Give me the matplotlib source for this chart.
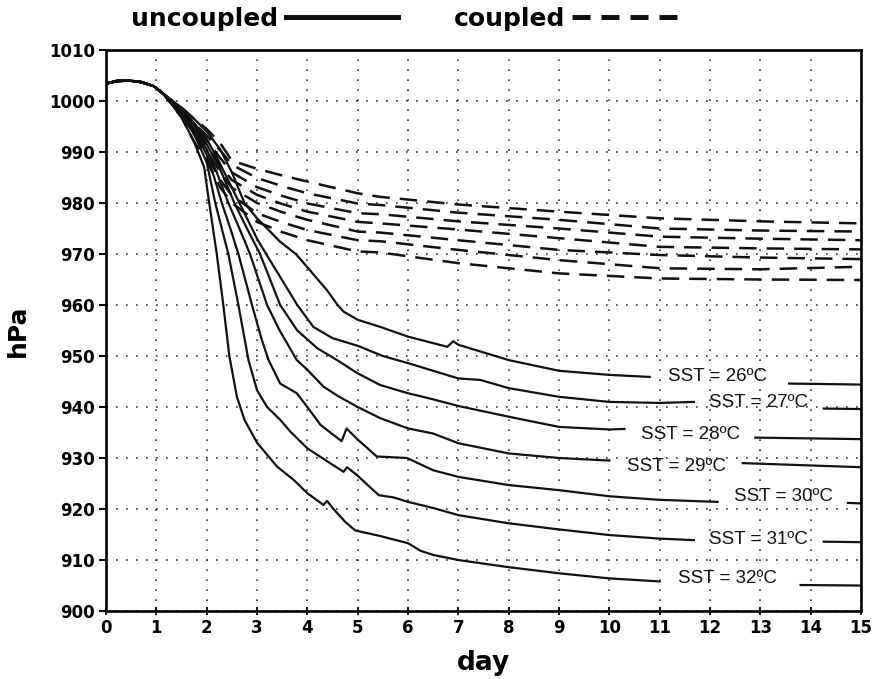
import numpy as np
import matplotlib.pyplot as plt
from matplotlib.lines import Line2D

nan = np.nan

sst = [26, 27, 28, 29, 30, 31, 32]

# all runs share the first day and a bit
common_day = [0, 0.2, 0.45, 0.7, 0.95, 1.15]
common_hpa = [1003.4, 1003.9, 1004.0, 1003.7, 1002.9, 1001.3]

# uncoupled runs, nan = gap where the SST label sits
u26_day = [1.5, 1.75, 2.0, 2.27, 2.5, 2.75, 3.0, 3.46, 3.77, 4.0, 4.39, 4.6, 4.72, 5.0, 5.45, 6.0, 6.78, 6.9, 7.0, 8.0, 9.0, 10.0, 10.8, nan, 13.57, 15]
u26_hpa = [998.7, 996.5, 994.0, 990.5, 986.0, 980.0, 977.0, 972.4, 970.0, 967.4, 962.9, 960.0, 958.7, 957.1, 955.7, 953.8, 951.8, 952.9, 952.2, 949.2, 947.1, 946.3, 945.9, nan, 944.6, 944.4]

u27_day = [1.5, 1.75, 2.0, 2.2, 2.4, 2.65, 3.0, 3.18, 3.46, 3.8, 4.12, 4.5, 5.0, 5.5, 6.0, 7.0, 7.44, 8, 9, 10, 11, 11.68, nan, 14.26, 15]
u27_hpa = [998.3, 995.7, 992.5, 989.0, 985.0, 980.0, 973.0, 970.0, 965.5, 960.0, 955.7, 953.5, 952.0, 950.0, 948.6, 945.6, 945.3, 943.7, 942.0, 941.0, 940.8, 941.0, nan, 939.7, 939.6]

u28_day = [1.5, 1.75, 2.0, 2.25, 2.55, 2.8, 3.06, 3.46, 3.8, 4.2, 4.59, 5.0, 5.45, 6.0, 6.5, 7, 8, 9, 10, 10.3, nan, 12.9, 15]
u28_hpa = [998.0, 995.2, 991.5, 987.0, 980.0, 975.0, 970.0, 960.0, 955.0, 951.5, 949.2, 946.6, 944.3, 942.7, 941.5, 940.2, 938.1, 936.1, 935.6, 935.7, nan, 934.0, 933.7]

u29_day = [1.5, 1.75, 2.0, 2.2, 2.43, 2.65, 2.86, 3.2, 3.45, 3.79, 4.0, 4.32, 4.6, 5.0, 5.45, 6.0, 6.5, 7, 8, 9, 10, nan, 12.65, 15]
u29_hpa = [997.7, 994.5, 990.5, 986.0, 980.0, 975.0, 970.0, 960.0, 955.0, 949.2, 947.3, 944.0, 942.2, 940.0, 937.8, 935.8, 934.8, 932.9, 930.9, 930.0, 929.5, nan, 929.0, 928.2]

u30_day = [1.5, 1.75, 2.0, 2.15, 2.3, 2.47, 2.63, 2.9, 3.1, 3.23, 3.46, 3.79, 4.0, 4.26, 4.68, 4.78, 4.98, 5.38, 5.98, 6.5, 7, 8, 9, 10, 11, 12.15, nan, 14.74, 15]
u30_hpa = [997.4, 994.0, 989.5, 985.0, 980.0, 975.0, 970.0, 960.0, 953.0, 949.2, 944.6, 942.7, 940.0, 936.5, 933.3, 935.8, 933.8, 930.3, 930.0, 927.6, 926.3, 924.7, 923.7, 922.5, 921.8, 921.4, nan, 921.2, 921.1]

u31_day = [1.5, 1.75, 2.0, 2.17, 2.3, 2.43, 2.63, 2.83, 3.0, 3.2, 3.46, 3.66, 4.0, 4.45, 4.72, 4.79, 4.98, 5.42, 5.7, 6.0, 6.5, 7, 8, 9, 10, 11, 11.68, nan, 14.26, 15]
u31_hpa = [997.1, 993.5, 988.0, 980.0, 975.0, 970.0, 960.0, 949.2, 943.3, 940.0, 937.5, 935.2, 931.9, 929.0, 927.3, 928.2, 926.7, 922.7, 922.3, 921.4, 920.2, 918.8, 917.2, 916.0, 914.9, 914.2, 913.9, nan, 913.6, 913.5]

u32_day = [1.5, 1.75, 1.95, 2.05, 2.2, 2.33, 2.45, 2.6, 2.75, 3.0, 3.4, 3.73, 4.0, 4.32, 4.39, 4.52, 4.75, 4.95, 5.45, 6.0, 6.25, 6.5, 7, 8, 9, 10, 11, nan, 13.8, 15]
u32_hpa = [996.8, 992.0, 987.0, 980.0, 970.0, 960.0, 950.0, 942.0, 937.5, 933.0, 928.3, 925.7, 923.1, 920.8, 921.6, 920.0, 917.5, 915.8, 914.7, 913.3, 911.8, 911.0, 910.0, 908.6, 907.4, 906.4, 905.8, nan, 905.1, 905.0]

# coupled runs
c_day = [1.5, 1.75, 2.0, 2.27, 2.5, 3.0, 3.5, 4.0, 5.0, 5.45, 7, 9, 11, 13, 15]
c26_hpa = [998.7, 996.5, 994.5, 991.7, 988.3, 986.7, 985.4, 984.2, 981.9, 981.2, 979.7, 978.3, 977.0, 976.4, 976.0]
c27_hpa = [998.3, 995.7, 993.2, 990.3, 987.5, 984.9, 983.3, 981.9, 979.9, 979.6, 978.1, 976.7, 975.0, 974.6, 974.4]
c28_hpa = [998.0, 995.2, 992.3, 988.8, 986.0, 983.1, 981.4, 979.9, 978.0, 977.8, 976.4, 975.0, 973.4, 973.0, 972.7]
c29_hpa = [997.7, 994.5, 991.3, 987.3, 984.5, 981.6, 979.8, 978.3, 976.3, 976.0, 974.8, 973.1, 971.4, 971.1, 970.9]
c30_hpa = [997.4, 994.0, 990.3, 986.0, 983.0, 980.0, 978.2, 976.7, 974.4, 974.2, 972.7, 970.8, 969.8, 969.3, 969.0]
c31_hpa = [997.1, 993.5, 989.3, 984.5, 981.5, 978.0, 976.2, 974.7, 972.7, 972.5, 970.8, 968.8, 967.2, 967.0, 967.5]
c32_hpa = [996.8, 992.0, 988.3, 983.0, 980.0, 976.3, 974.3, 972.7, 970.5, 970.3, 968.2, 966.2, 965.2, 965.0, 964.9]

# where the SST labels go (day, hPa)
label_day = [12.15, 12.97, 11.62, 11.34, 13.45, 12.97, 12.35]
label_hpa = [945.9, 940.8, 934.7, 928.4, 922.4, 914.1, 906.3]

unc = [(u26_day, u26_hpa), (u27_day, u27_hpa), (u28_day, u28_hpa), (u29_day, u29_hpa),
       (u30_day, u30_hpa), (u31_day, u31_hpa), (u32_day, u32_hpa)]
cpl = [c26_hpa, c27_hpa, c28_hpa, c29_hpa, c30_hpa, c31_hpa, c32_hpa]

fig = plt.figure(figsize=(8.72, 6.79), dpi=100)
ax = fig.add_axes([0.1216, 0.1001, 0.8658, 0.8263])

for (d, p), cp in zip(unc, cpl):
    ax.plot(common_day + d, common_hpa + p, color='#111111', lw=1.6, solid_joinstyle='round')
    ax.plot(common_day + c_day, common_hpa + cp, color='#111111', lw=1.8,
            dashes=(7, 4), dash_capstyle='butt')

for s, x, y in zip(sst, label_day, label_hpa):
    ax.text(x, y, 'SST = %dºC' % s, ha='center', va='center', fontsize=13.5,
            family='Liberation Sans', color='#111111')

ax.set_xlim(0, 15)
ax.set_ylim(900, 1010)
ax.set_xticks(range(0, 16))
ax.set_yticks(range(900, 1011, 10))
ax.grid(True, color='#333333', lw=1.2, linestyle=(0, (1, 5)))
ax.tick_params(axis='y', direction='out', length=5, width=1.5, pad=3, labelsize=12)
ax.tick_params(axis='x', direction='inout', length=6, width=1.3, pad=3, labelsize=12)
for lab in ax.get_xticklabels() + ax.get_yticklabels():
    lab.set_fontweight('bold')
for sp in ax.spines.values():
    sp.set_linewidth(1.9)

ax.set_xlabel('day', fontsize=19, fontweight='bold', labelpad=9)
ax.set_ylabel('hPa', fontsize=18, fontweight='bold', labelpad=14)

handles = [Line2D([], [], color='#111111', lw=3.6),
           Line2D([], [], color='#111111', lw=3.6, dashes=(3.6, 2.2), dash_capstyle='butt')]
fig.legend(handles, ['uncoupled', 'coupled'], loc='center', bbox_to_anchor=(0.468, 0.972),
           ncol=2, frameon=False, markerfirst=False, handlelength=4.5, handletextpad=0.3,
           columnspacing=2.2, prop={'weight': 'bold', 'size': 18})

fig.savefig('out.png', dpi=100)
